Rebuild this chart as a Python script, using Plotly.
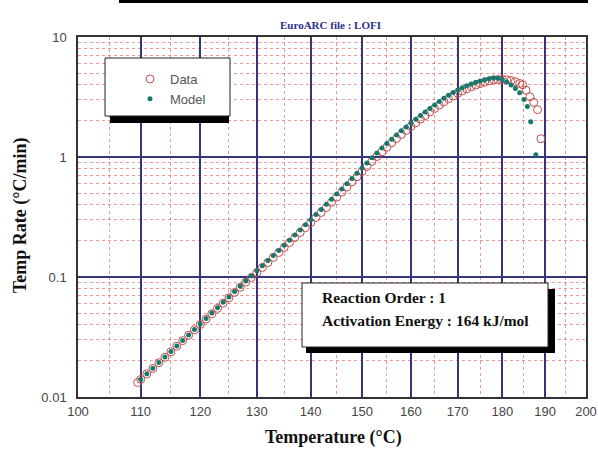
import plotly.graph_objects as go

# ---------------- data ----------------
T_data = [109.5, 110, 111, 112, 113, 114, 115, 116, 117, 118, 119, 120, 121, 122, 123, 124,
          125, 126, 127, 128, 129, 130, 131, 132, 133, 134, 135, 136, 137, 138, 139, 140,
          141, 142, 143, 144, 145, 146, 147, 148, 149, 150, 151, 152, 153, 154, 155, 156,
          157, 158, 159, 160, 161, 162, 163, 164, 165, 166, 167, 168, 169, 170, 171, 172,
          173, 174, 175, 176, 177, 178, 179, 180, 181, 182, 183, 184, 184.7, 185.5, 186.4,
          187.3, 188.2, 189.0]
rate_data = [0.0132, 0.0140, 0.0156, 0.0173, 0.0193, 0.0214, 0.0238, 0.0265, 0.0295, 0.0327,
             0.0363, 0.0402, 0.0446, 0.0494, 0.0548, 0.0606, 0.0671, 0.0743, 0.0821, 0.0906,
             0.0990, 0.1090, 0.1200, 0.1320, 0.1455, 0.1600, 0.1760, 0.1935, 0.2130, 0.2345,
             0.2580, 0.2840, 0.3130, 0.3450, 0.3800, 0.4190, 0.4620, 0.509, 0.562, 0.620,
             0.685, 0.757, 0.835, 0.920, 1.010, 1.105, 1.205, 1.312, 1.424, 1.541, 1.664,
             1.792, 1.925, 2.067, 2.214, 2.373, 2.537, 2.706, 2.883, 3.057, 3.227, 3.392,
             3.550, 3.702, 3.845, 3.975, 4.093, 4.206, 4.312, 4.395, 4.42, 4.43, 4.40, 4.34,
             4.24, 4.10, 4.00, 3.60, 3.18, 2.85, 2.48, 1.42]

T_model = [110, 111, 112, 113, 114, 115, 116, 117, 118, 119, 120, 121, 122, 123, 124, 125,
           126, 127, 128, 129, 130, 131, 132, 133, 134, 135, 136, 137, 138, 139, 140, 141,
           142, 143, 144, 145, 146, 147, 148, 149, 150, 151, 152, 153, 154, 155, 156, 157,
           158, 159, 160, 161, 162, 163, 164, 165, 166, 167, 168, 169, 170, 171, 172, 173,
           174, 175, 176, 177, 178, 179, 180, 181, 182, 183, 184, 185, 185.8, 186.6, 187.8]
rate_model = [0.0140, 0.0156, 0.0174, 0.0194, 0.0215, 0.0239, 0.0266, 0.0296, 0.0329, 0.0366,
              0.0406, 0.0451, 0.0500, 0.0555, 0.0615, 0.0682, 0.0757, 0.0838, 0.0927, 0.1020,
              0.1125, 0.1240, 0.1370, 0.1510, 0.1665, 0.1835, 0.2025, 0.2235, 0.2465, 0.2720,
              0.3000, 0.3310, 0.3650, 0.403, 0.445, 0.491, 0.542, 0.599, 0.662, 0.731, 0.808,
              0.893, 0.985, 1.082, 1.186, 1.294, 1.407, 1.526, 1.651, 1.782, 1.919, 2.061,
              2.213, 2.371, 2.541, 2.716, 2.897, 3.083, 3.266, 3.443, 3.614, 3.776, 3.926,
              4.064, 4.188, 4.295, 4.395, 4.487, 4.560, 4.539, 4.426, 4.227, 3.981, 3.715,
              3.428, 3.020, 2.630, 1.968, 1.042]

x_ticks_C = [100, 110, 120, 130, 140, 150, 160, 170, 180, 190, 200]
x_minor_C = [105, 115, 125, 135, 145, 155, 165, 175, 185, 195]
y_ticks = [0.01, 0.1, 1, 10]
y_tick_text = ["0.01", "0.1", "1", "10"]
y_minor = [m * d for d in (0.01, 0.1, 1) for m in range(2, 10)]

title_text = "EuroARC file : LOFI"
x_title = "Temperature (°C)"
y_title = "Temp Rate (°C/min)"
box_lines = ["Reaction Order : 1", "Activation Energy : 164 kJ/mol"]


# Arrhenius-style axis: linear in -1/T (K), labelled in °C
def inv_t(t_c):
    return -1000.0 / (t_c + 273.15)


# ---------------- layout geometry ----------------
W, H = 598, 454
L, R, T, B = 78, 586, 37, 397
PW, PH = R - L, B - T


def fx(p):
    return (p - L) / PW


def fy(q):
    return (B - q) / PH


NAVY = "#34357a"
RED = "rgba(235,80,80,0.6)"
SERIF = "Liberation Serif"
SANS = "Liberation Sans"

fig = go.Figure()
fig.add_trace(go.Scatter(
    x=[inv_t(t) for t in T_data], y=rate_data, mode="markers", name="Data",
    marker=dict(symbol="circle-open", size=8, color="#c0504d", line=dict(width=1)),
))
fig.add_trace(go.Scatter(
    x=[inv_t(t) for t in T_model], y=rate_model, mode="markers", name="Model",
    marker=dict(symbol="circle", size=5, color="#18786c"),
))

fig.update_layout(
    width=W, height=H, autosize=False,
    margin=dict(l=L, r=W - R, t=T, b=H - B, pad=0, autoexpand=False),
    paper_bgcolor="white", plot_bgcolor="white",
    showlegend=True,
    legend=dict(x=fx(130), y=fy(64), xanchor="left", yanchor="top",
                bgcolor="rgba(0,0,0,0)", borderwidth=0,
                font=dict(family=SANS, size=13, color="#555"),
                tracegroupgap=0),
    xaxis=dict(
        range=[inv_t(100), inv_t(200)], automargin=False,
        tickmode="array", tickvals=[inv_t(t) for t in x_ticks_C],
        ticktext=[str(t) for t in x_ticks_C],
        showgrid=True, gridcolor=NAVY, gridwidth=1.5,
        minor=dict(tickvals=[inv_t(t) for t in x_minor_C], showgrid=True,
                   gridcolor=RED, griddash="3px,3px", gridwidth=1, ticks=""),
        showline=True, linecolor="#333", linewidth=1.5, mirror=True,
        ticks="", zeroline=False, ticklabelstandoff=2,
        tickfont=dict(family=SANS, size=13, color="#444"),
    ),
    yaxis=dict(
        type="log", range=[-2, 1], automargin=False,
        tickmode="array", tickvals=y_ticks, ticktext=y_tick_text,
        showgrid=True, gridcolor=NAVY, gridwidth=1.5,
        minor=dict(tickvals=y_minor, showgrid=True, gridcolor=RED,
                   griddash="3px,3px", gridwidth=1, ticks=""),
        showline=True, linecolor="#333", linewidth=1.5, mirror=True,
        ticks="", zeroline=False, ticklabelstandoff=7,
        tickfont=dict(family=SANS, size=13, color="#444"),
    ),
)

shapes = [
    # top bar (bottom edge of the title banner)
    dict(type="rect", xref="paper", yref="paper", x0=fx(119), x1=fx(588), y0=fy(3), y1=fy(-2),
         fillcolor="black", line=dict(width=0), layer="above"),
    # legend box shadow + box
    dict(type="rect", xref="paper", yref="paper", x0=fx(110), x1=fx(229), y0=fy(123), y1=fy(110),
         fillcolor="black", line=dict(width=0), layer="above"),
    dict(type="rect", xref="paper", yref="paper", x0=fx(105), x1=fx(230), y0=fy(116), y1=fy(58),
         fillcolor="white", line=dict(color="#222", width=1), layer="above"),
    # parameter box shadow + box
    dict(type="rect", xref="paper", yref="paper", x0=fx(306), x1=fx(555), y0=fy(353), y1=fy(289),
         fillcolor="black", line=dict(width=0), layer="above"),
    dict(type="rect", xref="paper", yref="paper", x0=fx(302), x1=fx(548), y0=fy(347), y1=fy(283),
         fillcolor="white", line=dict(color="#222", width=1), layer="above"),
]
fig.update_layout(shapes=shapes)

annotations = [
    dict(text="<b>" + title_text + "</b>", x=fx(330), y=fy(25), xref="paper", yref="paper",
         xanchor="center", yanchor="middle", showarrow=False,
         font=dict(family=SERIF, size=11, color="#2b2f8f")),
    dict(text="<b>" + x_title + "</b>", x=fx(333), y=fy(437), xref="paper", yref="paper",
         xanchor="center", yanchor="middle", showarrow=False,
         font=dict(family=SERIF, size=18, color="#111")),
    dict(text="<b>" + y_title + "</b>", x=fx(20), y=fy(215), xref="paper", yref="paper",
         xanchor="center", yanchor="middle", showarrow=False, textangle=-90,
         font=dict(family=SERIF, size=18, color="#111")),
    dict(text="<b>" + box_lines[0] + "</b>", x=fx(320), y=fy(297), xref="paper", yref="paper",
         xanchor="left", yanchor="middle", showarrow=False,
         font=dict(family=SERIF, size=15.5, color="#111")),
    dict(text="<b>" + box_lines[1] + "</b>", x=fx(320), y=fy(320), xref="paper", yref="paper",
         xanchor="left", yanchor="middle", showarrow=False,
         font=dict(family=SERIF, size=15.5, color="#111")),
]
fig.update_layout(annotations=annotations)

fig.write_html("out.html")
